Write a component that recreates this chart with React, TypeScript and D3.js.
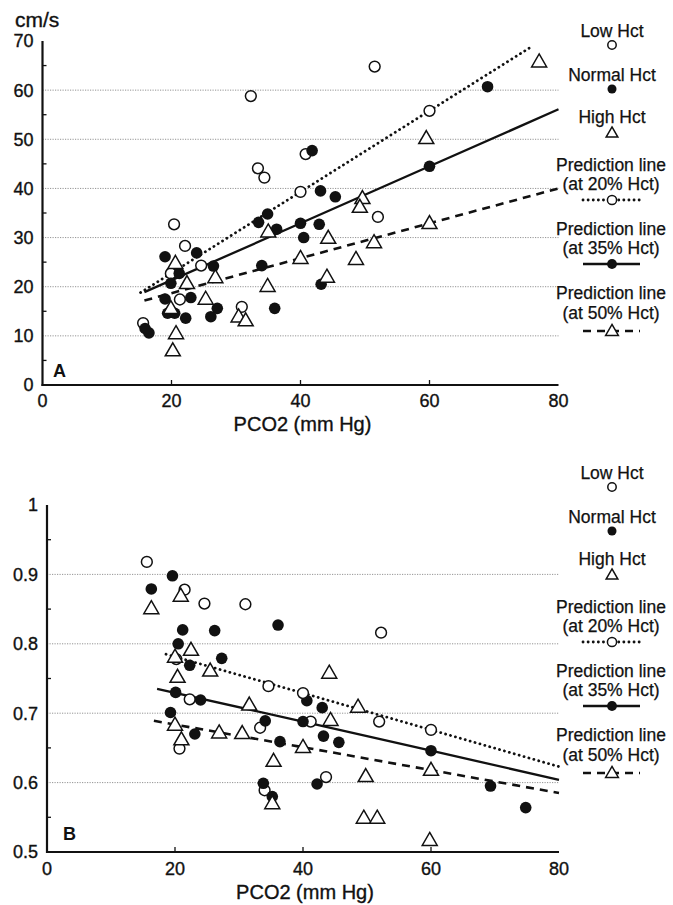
import React from 'react';
import * as d3 from 'd3';

// Panel A: blood flow velocity (cm/s) vs PCO2
const lowHctA = [
  [20.4, 32.7], [22.1, 28.3], [24.6, 24.3], [21.3, 17.4], [15.6, 12.6], [30.9, 15.9],
  [19.9, 22.7], [32.3, 58.8], [33.4, 44.1], [34.4, 42.2], [40.8, 47.0], [51.5, 64.8],
  [52.0, 34.2],
];
const normalHctA = [
  [34.9, 34.8], [33.5, 33.1], [36.3, 31.7], [42.9, 32.7], [40.5, 30.0], [23.9, 26.9],
  [19.0, 26.1], [26.5, 24.2], [21.2, 22.7], [19.9, 20.7], [34.0, 24.3], [19.0, 17.5],
  [23.0, 17.8], [19.4, 14.6], [20.5, 14.6], [22.2, 13.6], [27.1, 15.6], [26.1, 13.9],
  [16.5, 10.6], [15.9, 11.5], [36.0, 15.6], [43.2, 20.5], [41.8, 47.7], [43.1, 39.5],
  [45.4, 38.3], [69.0, 60.7],
];
const highHctA = [
  [20.6, 24.8], [35.0, 31.2], [44.3, 29.9], [26.8, 21.9], [22.4, 20.7], [25.3, 17.5],
  [34.9, 20.1], [44.1, 22.0], [19.9, 15.6], [30.4, 13.9], [31.5, 13.1], [20.7, 10.5],
  [20.2, 7.0], [51.4, 29.0], [48.6, 25.6], [49.6, 38.0], [49.2, 36.2], [59.5, 50.2],
  [77.0, 65.8],
];
// prediction lines: [start, marker@40, marker@60, end]
const predA20 = [[15.2, 18.8], [40, 39.3], [60, 55.8], [76, 69.0]];
const predA35 = [[15.8, 18.9], [40, 32.9], [60, 44.5], [80, 56.1]];
const predA50 = [[15.8, 17.2], [40, 25.8], [60, 32.9], [80, 40.0]];

// Panel B: ratio vs PCO2
const lowHctB = [
  [15.6, 0.918], [21.5, 0.878], [24.6, 0.858], [31.0, 0.857], [34.6, 0.739], [22.3, 0.720],
  [33.3, 0.679], [41.2, 0.688], [20.7, 0.649], [43.6, 0.608], [34.0, 0.589], [51.9, 0.688],
  [52.2, 0.816], [20.2, 0.778],
];
const normalHctB = [
  [19.6, 0.898], [16.3, 0.879], [21.2, 0.820], [26.2, 0.819], [36.1, 0.827], [20.5, 0.800],
  [27.3, 0.779], [22.3, 0.769], [20.1, 0.730], [24.0, 0.719], [19.3, 0.701], [23.1, 0.670],
  [34.1, 0.689], [40.6, 0.718], [43.0, 0.708], [43.2, 0.667], [36.4, 0.659], [33.8, 0.599],
  [42.2, 0.598], [35.2, 0.580], [45.6, 0.658], [69.3, 0.595], [74.8, 0.564],
];
const highHctB = [
  [20.9, 0.869], [16.3, 0.851], [22.5, 0.791], [20.0, 0.781], [20.4, 0.752], [25.5, 0.761],
  [31.6, 0.712], [44.1, 0.758], [20.0, 0.683], [21.0, 0.662], [26.9, 0.672], [30.5, 0.671],
  [35.4, 0.631], [44.3, 0.690], [35.2, 0.570], [48.6, 0.709], [49.8, 0.609], [49.5, 0.549],
  [51.6, 0.549], [59.8, 0.517],
];
const predB20 = [[18.6, 0.785], [40, 0.729], [60, 0.676], [80, 0.623]];
const predB35 = [[17.2, 0.735], [40, 0.688], [60, 0.646], [80, 0.604]];
const predB50 = [[16.7, 0.689], [40, 0.651], [60, 0.618], [80, 0.585]];

const xTicks = [0, 20, 40, 60, 80];
const yTicksA = [0, 10, 20, 30, 40, 50, 60, 70];
const yTicksB = [0.5, 0.6, 0.7, 0.8, 0.9, 1];
const legendLabels = ['Low Hct', 'Normal Hct', 'High Hct'];
const predLabels = ['(at 20% Hct)', '(at 35% Hct)', '(at 50% Hct)'];

const FONT = '"Liberation Sans", Arial, Helvetica, sans-serif';
const INK = '#111';
// scanned text looks a little heavy
const heavy = { stroke: INK, strokeWidth: 0.35 };

const tri = (s) => `M0,${-s * 0.62}L${s * 0.6},${s * 0.42}L${-s * 0.6},${s * 0.42}Z`;

const Marker = ({ kind, x, y, size = 1 }) => {
  if (kind === 'low') return <circle cx={x} cy={y} r={5.4 * size} fill="#fff" stroke={INK} strokeWidth={1.5} />;
  if (kind === 'normal') return <circle cx={x} cy={y} r={5.8 * size} fill={INK} />;
  return <path d={tri(12.5 * size)} transform={`translate(${x},${y})`} fill="#fff" stroke={INK} strokeWidth={1.5} strokeLinejoin="miter" />;
};

const lineStyles = [
  { dash: '0.1 5', width: 2.8, cap: 'round' },
  { dash: null, width: 2.3, cap: 'butt' },
  { dash: '8 6', width: 2.6, cap: 'butt' },
];
const markerKinds = ['low', 'normal', 'high'];

const Panel = ({ x, y, yTicks, minor, low, normal, high, preds, letter, letterPos, tickFmt, xLabelY, xTickY, gridTop }) => {
  const line = d3.line().x(d => x(d[0])).y(d => y(d[1]));
  const [x0] = x.range();
  const [yb, yt] = y.range();
  return (
    <g>
      {yTicks.slice(1).filter(t => t <= gridTop).map(t => (
        <line key={'g' + t} x1={x0} x2={x(80)} y1={y(t)} y2={y(t)} stroke="#888" strokeWidth={0.9} strokeDasharray="1.2 1.3" />
      ))}
      {minor.map(t => (
        <line key={'m' + t} x1={x0} x2={x0 + 4} y1={y(t)} y2={y(t)} stroke={INK} strokeWidth={1.3} />
      ))}
      {xTicks.slice(1, 4).map(t => (
        <line key={'xt' + t} x1={x(t)} x2={x(t)} y1={yb} y2={yb - 5} stroke={INK} strokeWidth={1.3} />
      ))}
      <line x1={x0} x2={x0} y1={yb + 1} y2={yt} stroke={INK} strokeWidth={2.2} />
      <line x1={x0 - 1} x2={x(80)} y1={yb} y2={yb} stroke={INK} strokeWidth={2.2} />
      {yTicks.map(t => (
        <text key={'yl' + t} x={x0 - 9} y={y(t)} dy="0.36em" textAnchor="end" fontSize={18} fontFamily={FONT} fill={INK} {...heavy}>{tickFmt(t)}</text>
      ))}
      {xTicks.map(t => (
        <text key={'xl' + t} x={x(t)} y={xTickY} textAnchor="middle" fontSize={18} fontFamily={FONT} fill={INK} {...heavy}>{t}</text>
      ))}
      <text x={(x0 + x(80)) / 2 + 2} y={xLabelY} textAnchor="middle" fontSize={20} fontFamily={FONT} fill={INK} {...heavy}>PCO2 (mm Hg)</text>
      <text x={letterPos[0]} y={letterPos[1]} fontSize={18} fontWeight="bold" fontFamily={FONT} fill={INK}>{letter}</text>
      {preds.map((p, i) => (
        <path key={'p' + i} d={line(p)} fill="none" stroke={INK} strokeWidth={lineStyles[i].width}
          strokeDasharray={lineStyles[i].dash || undefined} strokeLinecap={lineStyles[i].cap} />
      ))}
      {low.map((d, i) => <Marker key={'l' + i} kind="low" x={x(d[0])} y={y(d[1])} />)}
      {normal.map((d, i) => <Marker key={'n' + i} kind="normal" x={x(d[0])} y={y(d[1])} />)}
      {high.map((d, i) => <Marker key={'h' + i} kind="high" x={x(d[0])} y={y(d[1])} />)}
      {preds.map((p, i) => p.slice(1, 3).map((d, j) => (
        <Marker key={'pm' + i + j} kind={markerKinds[i]} x={x(d[0])} y={y(d[1])} />
      )))}
    </g>
  );
};

const Legend = ({ top }) => {
  const cx = 612;
  const textY = [37, 81, 123];
  const markY = [45, 89, 133];
  const predY = [[171, 190, 200], [235, 254, 264], [299, 319, 331]];
  return (
    <g transform={`translate(0,${top})`} fontFamily={FONT} fill={INK} fontSize={17.5}>
      {legendLabels.map((l, i) => (
        <g key={l}>
          <text x={cx} y={textY[i]} textAnchor="middle" {...heavy} strokeWidth={0.25}>{l}</text>
          <Marker kind={markerKinds[i]} x={cx} y={markY[i]} size={0.78} />
        </g>
      ))}
      {predLabels.map((l, i) => (
        <g key={l}>
          <text x={cx - 1} y={predY[i][0]} textAnchor="middle" {...heavy} strokeWidth={0.25}>Prediction line</text>
          <text x={cx - 1} y={predY[i][1]} textAnchor="middle" {...heavy} strokeWidth={0.25}>{l}</text>
          <line x1={cx - 29} x2={cx + 28} y1={predY[i][2]} y2={predY[i][2]} stroke={INK}
            strokeWidth={lineStyles[i].width} strokeDasharray={lineStyles[i].dash || undefined} strokeLinecap={lineStyles[i].cap} />
          <Marker kind={markerKinds[i]} x={cx} y={predY[i][2]} size={0.85} />
        </g>
      ))}
    </g>
  );
};

export default function App() {
  const xA = d3.scaleLinear().domain([0, 80]).range([42.5, 558.5]);
  const yA = d3.scaleLinear().domain([0, 70]).range([385, 41]);
  const xB = d3.scaleLinear().domain([0, 80]).range([47, 559]);
  const yB = d3.scaleLinear().domain([0.5, 1]).range([852, 505]);

  return (
    <svg width={673} height={905} style={{ position: 'absolute', left: 0, top: 0, background: '#fff' }}>
      <rect width={673} height={905} fill="#fff" />
      <text x={15} y={27} fontSize={21} fontFamily={FONT} fill={INK} {...heavy}>cm/s</text>
      <Panel x={xA} y={yA} yTicks={yTicksA} minor={[5, 15, 25, 35, 45, 55, 65]}
        low={lowHctA} normal={normalHctA} high={highHctA} preds={[predA20, predA35, predA50]}
        letter="A" letterPos={[53, 377]} tickFmt={d => String(d)} xLabelY={431} xTickY={407} gridTop={60} />
      <Legend top={0} />
      <Panel x={xB} y={yB} yTicks={yTicksB} minor={[0.55, 0.65, 0.75, 0.85, 0.95]}
        low={lowHctB} normal={normalHctB} high={highHctB} preds={[predB20, predB35, predB50]}
        letter="B" letterPos={[63, 840]} tickFmt={d => (d === 1 ? '1' : d.toFixed(1))} xLabelY={899} xTickY={875} gridTop={0.9} />
      <Legend top={442} />
    </svg>
  );
}
